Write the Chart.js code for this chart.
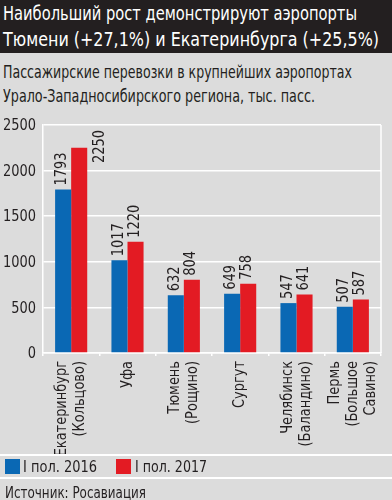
<!DOCTYPE html>
<html>
<head>
<meta charset="utf-8">
<script src="https://cdn.jsdelivr.net/npm/chart.js@4/dist/chart.umd.min.js"></script>
<style>
  body { margin: 0; width: 392px; height: 500px; background: #dcdcdc; overflow: hidden;
         font-family: "DejaVu Sans Condensed", "DejaVu Sans", sans-serif; color: #231f20; }
  #head { position: absolute; left: 0; top: 0; width: 392px; height: 53px; background: #231f20; }
  .t { position: absolute; white-space: nowrap; line-height: 1; transform-origin: 0 0; }
  #wrap { position: absolute; left: 0; top: 105px; width: 392px; height: 350px; }
  .hr { position: absolute; left: 0; width: 392px; height: 2px; background: #fff; }
  .sw { position: absolute; width: 15px; height: 15px; }
</style>
</head>
<body>
<div id="head"></div>
<div class="t" data-w="354" style="left:3px;top:4px;font-size:19px;color:#fff">Наибольший рост демонстрируют аэропорты</div>
<div class="t" data-w="376" style="left:3px;top:30px;font-size:19px;color:#fff">Тюмени (+27,1%) и Екатеринбурга (+25,5%)</div>
<div class="t" data-w="349" style="left:3px;top:64px;font-size:17px">Пассажирские перевозки в крупнейших аэропортах</div>
<div class="t" data-w="312" style="left:3px;top:88px;font-size:17px">Урало-Западносибирского региона, тыс. пасс.</div>
<div id="wrap"><canvas id="chart" width="392" height="350"></canvas></div>
<div class="hr" style="top:454px"></div>
<div class="sw" style="left:5px;top:459px;background:#0a68b4"></div>
<div class="t" id="lg0" data-w="74" style="left:23px;top:459px;font-size:16px"></div>
<div class="sw" style="left:116px;top:459px;background:#e31b23"></div>
<div class="t" id="lg1" data-w="72" style="left:135px;top:459px;font-size:16px"></div>
<div class="hr" style="top:477px"></div>
<div class="t" data-w="141" style="left:5px;top:485px;font-size:16px">Источник: Росавиация</div>
<script>
const airports = [
  ["Екатеринбург", "(Кольцово)"],
  ["Уфа"],
  ["Тюмень", "(Рощино)"],
  ["Сургут"],
  ["Челябинск", "(Баландино)"],
  ["Пермь", "(Большое", "Савино)"]
];
const h1_2016 = [1793, 1017, 632, 649, 547, 507];
const h1_2017 = [2250, 1220, 804, 758, 641, 587];
const seriesNames = ["I пол. 2016", "I пол. 2017"];
const yTicks = [0, 500, 1000, 1500, 2000, 2500];

const fontFamily = '"DejaVu Sans Condensed", "DejaVu Sans", sans-serif';
const ink = '#231f20';

document.getElementById('lg0').textContent = seriesNames[0];
document.getElementById('lg1').textContent = seriesNames[1];

// squeeze the html texts to the narrow widths of the original
document.querySelectorAll('.t').forEach(el => {
  const w = el.getBoundingClientRect().width;
  el.style.transform = 'scaleX(' + (el.dataset.w / w) + ')';
});

// condensed factor for canvas texts: "2500" is about 33px wide at 16px
const measure = document.createElement('canvas').getContext('2d');
measure.font = '16px ' + fontFamily;
const squeeze = 33 / measure.measureText('2500').width;

function narrowText(ctx, text, x, y, angle, align) {
  ctx.save();
  ctx.translate(x, y);
  ctx.rotate(angle);
  ctx.scale(squeeze, 1);
  ctx.textAlign = align;
  ctx.fillText(text, 0, 0);
  ctx.restore();
}

// axis labels and bar values, drawn narrow
const textLayer = {
  id: 'textLayer',
  afterDraw(chart) {
    const ctx = chart.ctx, a = chart.chartArea;
    const xs = chart.scales.x, ys = chart.scales.y;
    ctx.save();
    ctx.fillStyle = ink;
    ctx.textBaseline = 'middle';

    ctx.font = '16px ' + fontFamily;
    yTicks.forEach(v => narrowText(ctx, String(v), 36, ys.getPixelForValue(v) + 1, 0, 'right'));

    ctx.font = '16px ' + fontFamily;
    airports.forEach((lines, i) => {
      const cx = xs.getPixelForTick(i);
      lines.forEach((ln, k) => {
        const off = (k - (lines.length - 1) / 2) * 18;
        narrowText(ctx, ln, cx + off, a.bottom + 8, -Math.PI / 2, 'right');
      });
    });

    ctx.font = '16px ' + fontFamily;
    chart.data.datasets.forEach((ds, i) => {
      chart.getDatasetMeta(i).data.forEach((bar, j) => {
        const txt = String(ds.data[j]);
        const len = measure.measureText(txt).width * squeeze;
        if (bar.y - 4 - len < a.top) {
          narrowText(ctx, txt, bar.x + bar.width / 2 + 13, a.top + 5 + len, -Math.PI / 2, 'left');
        } else {
          narrowText(ctx, txt, bar.x - 1, bar.y - 4, -Math.PI / 2, 'left');
        }
      });
    });
    ctx.restore();
  }
};

// white frame line on the right side of the plot
const rightEdge = {
  id: 'rightEdge',
  beforeDatasetsDraw(chart) {
    const a = chart.chartArea, ctx = chart.ctx;
    ctx.save();
    ctx.strokeStyle = '#ffffff';
    ctx.lineWidth = 1.5;
    ctx.beginPath();
    ctx.moveTo(a.right, a.top);
    ctx.lineTo(a.right, a.bottom);
    ctx.stroke();
    ctx.restore();
  }
};

new Chart(document.getElementById('chart'), {
  type: 'bar',
  data: {
    labels: airports,
    datasets: [
      { label: seriesNames[0], data: h1_2016, backgroundColor: '#0a68b4' },
      { label: seriesNames[1], data: h1_2017, backgroundColor: '#e31b23' }
    ]
  },
  options: {
    responsive: false,
    animation: false,
    events: [],
    layout: { padding: { top: 20, right: 11, left: 0, bottom: 0 } },
    datasets: { bar: { categoryPercentage: 0.57, barPercentage: 1.0 } },
    plugins: { legend: { display: false }, tooltip: { enabled: false } },
    scales: {
      x: {
        afterFit(axis) { axis.height = 102; },
        grid: { display: true, drawOnChartArea: false, offset: true, color: '#ffffff', tickLength: 3, lineWidth: 1.5 },
        border: { display: true, color: '#ffffff', width: 1.5 },
        ticks: { display: false }
      },
      y: {
        min: 0, max: 2500,
        afterFit(axis) { axis.width = 43; },
        afterBuildTicks(axis) { axis.ticks = yTicks.map(v => ({ value: v })); },
        grid: { color: '#ffffff', lineWidth: 1.5, drawTicks: false },
        border: { display: true, color: '#ffffff', width: 1.5 },
        ticks: { display: false }
      }
    }
  },
  plugins: [textLayer, rightEdge]
});
</script>
</body>
</html>
